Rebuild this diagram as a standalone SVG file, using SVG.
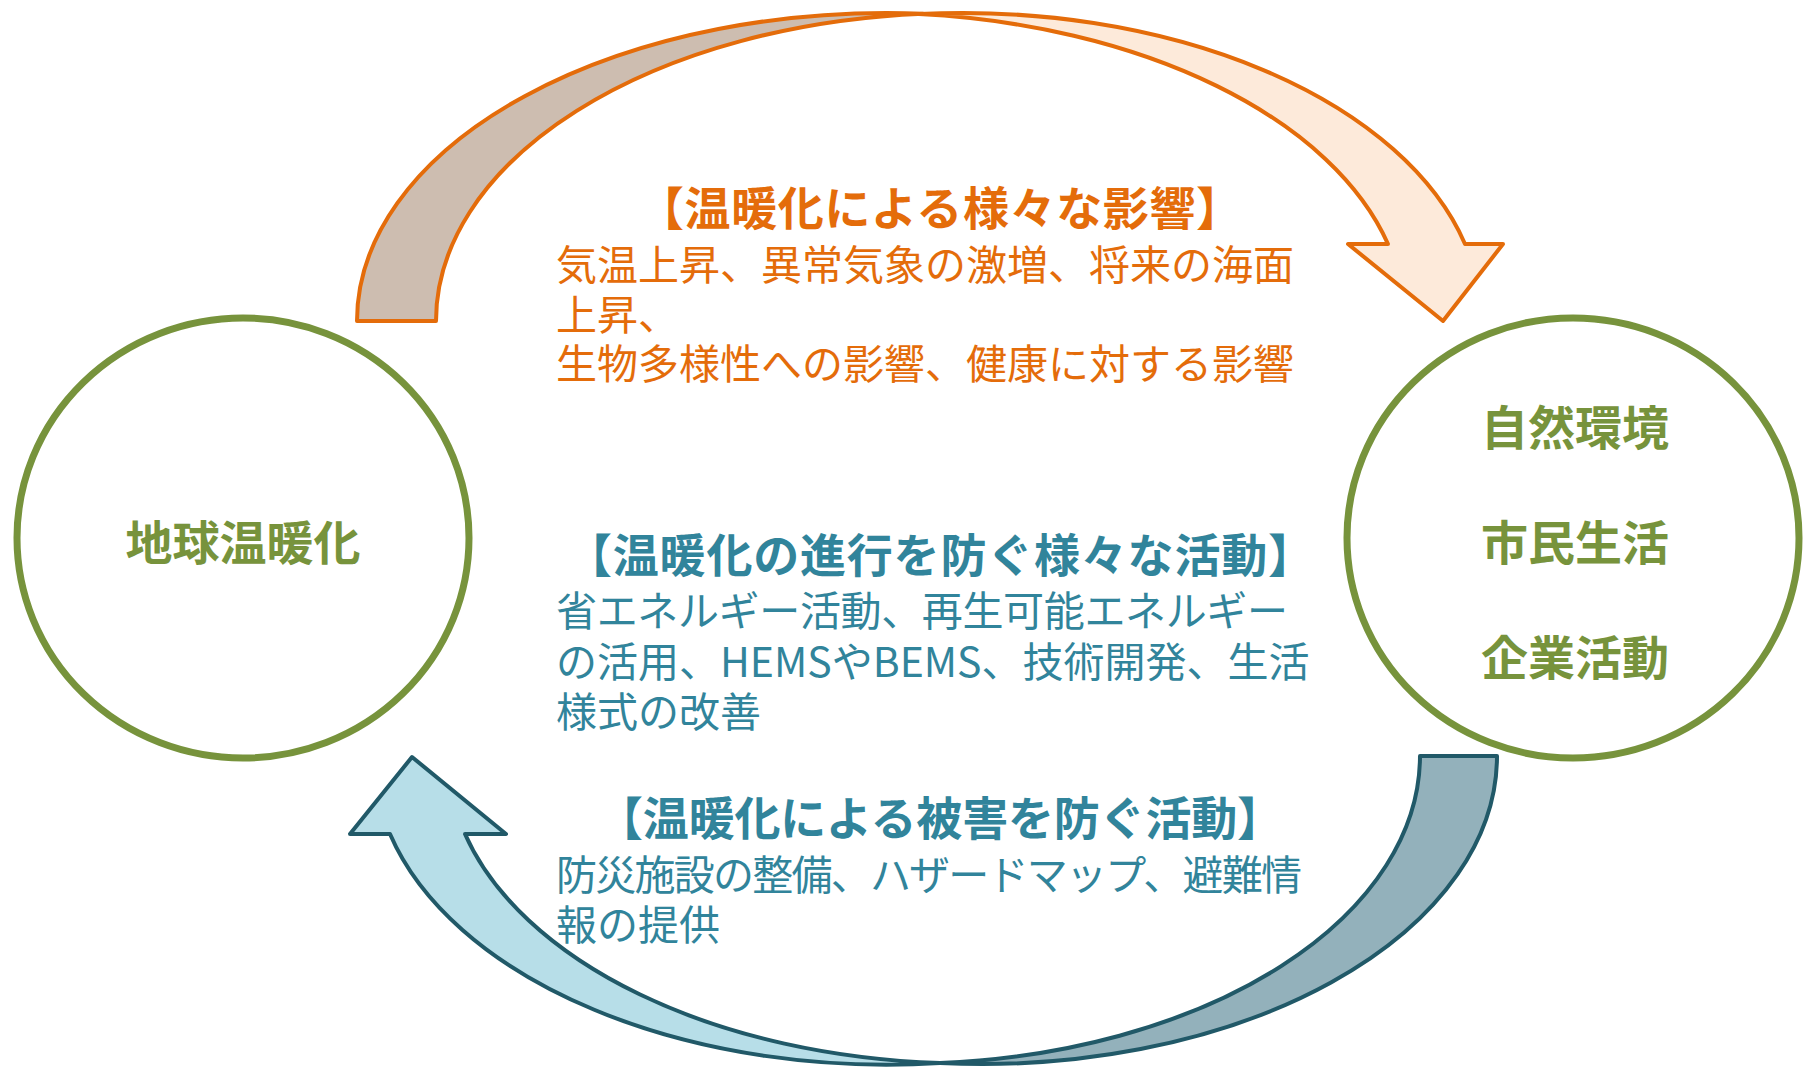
<svg xmlns="http://www.w3.org/2000/svg" width="1804" height="1067" viewBox="0 0 1804 1067">
  <style>
    .jp { font-family: "Noto Sans CJK JP", "Noto Sans", sans-serif; }
    .node-ring { fill: #FFFFFF; stroke: #77933C; stroke-width: 7; }
    .node-label { fill: #77933C; font-size: 47px; font-weight: bold; text-anchor: middle; }
    .orange-line { stroke: #E46C0A; stroke-width: 4; stroke-linejoin: round; }
    .teal-line { stroke: #215968; stroke-width: 4; stroke-linejoin: round; }
    .title { font-size: 46px; font-weight: bold; text-anchor: middle; }
    .body { font-size: 41px; }
    .orange { fill: #E46C0A; }
    .teal { fill: #31849B; }
  </style>

  <g id="connectors">
    <g id="arrow-impacts">
      <path class="orange-line" fill="#FDEADA" d="M919,14.1 A519,308 0 0 1 1465,244 L1503,244 L1443,321 L1348,244 L1388,244 A532,308 0 0 0 919,14.1 Z"/>
      <path class="orange-line" fill="#CDBDB0" d="M357,321 A530,308 0 0 1 923,13.7 A523,308 0 0 0 436,321 Z"/>
    </g>
    <g id="arrow-adaptation">
      <path class="teal-line" fill="#B7DEE8" d="M940,1063 A513,308 0 0 1 390,834 L350,834 L412,757 L506,834 L465,834 A520,308 0 0 0 940,1063 Z"/>
      <path class="teal-line" fill="#93B1BB" d="M1420,756 L1497,756 A515,308 0 0 1 940,1063 A515,308 0 0 0 1420,756 Z"/>
    </g>
  </g>

  <g id="node-global-warming">
    <ellipse class="node-ring" cx="243" cy="538" rx="226" ry="220"/>
    <text class="jp node-label" x="243" y="560">地球温暖化</text>
  </g>

  <g id="node-society">
    <ellipse class="node-ring" cx="1573" cy="538" rx="226" ry="220"/>
    <text class="jp node-label" x="1575" y="445">自然環境</text>
    <text class="jp node-label" x="1575" y="560">市民生活</text>
    <text class="jp node-label" x="1575" y="675">企業活動</text>
  </g>

  <g id="label-impacts">
    <text class="jp title orange" x="940" y="225" textLength="604" lengthAdjust="spacing">【温暖化による様々な影響】</text>
    <text class="jp body orange" x="556" y="280">気温上昇、異常気象の激増、将来の海面</text>
    <text class="jp body orange" x="556" y="330">上昇、</text>
    <text class="jp body orange" x="556" y="379">生物多様性への影響、健康に対する影響</text>
  </g>

  <g id="label-mitigation">
    <text class="jp title teal" x="940" y="572" textLength="748" lengthAdjust="spacing">【温暖化の進行を防ぐ様々な活動】</text>
    <text class="jp body teal" x="556" y="626" textLength="732" lengthAdjust="spacing">省エネルギー活動、再生可能エネルギー</text>
    <text class="jp body teal" x="556" y="677">の活用、HEMSやBEMS、技術開発、生活</text>
    <text class="jp body teal" x="556" y="727">様式の改善</text>
  </g>

  <g id="label-adaptation">
    <text class="jp title teal" x="940" y="835" textLength="686" lengthAdjust="spacing">【温暖化による被害を防ぐ活動】</text>
    <text class="jp body teal" x="556" y="890" textLength="746" lengthAdjust="spacing">防災施設の整備、ハザードマップ、避難情</text>
    <text class="jp body teal" x="556" y="940">報の提供</text>
  </g>
</svg>
